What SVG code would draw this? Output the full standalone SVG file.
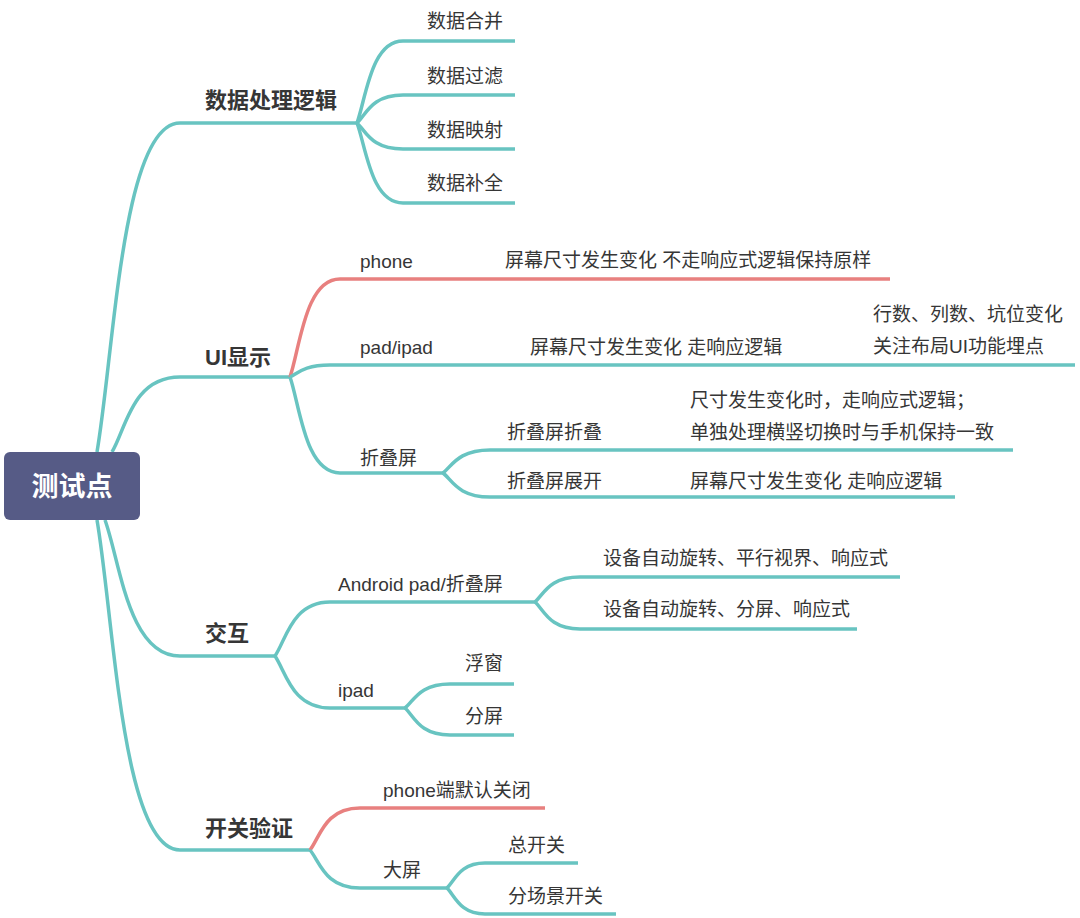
<svg xmlns="http://www.w3.org/2000/svg" width="1080" height="918" viewBox="0 0 1080 918">
<style>
.c{fill:none;stroke:#68c4c1;stroke-width:3.5}
.r{fill:none;stroke:#e8807f;stroke-width:3.5}
text{font-family:"Liberation Sans","Noto Sans CJK SC",sans-serif;fill:#363636}
.t{font-size:19px}
.b{font-size:22px;font-weight:bold}
.root{font-size:27px;font-weight:bold;fill:#fff}
</style>
<rect width="1080" height="918" fill="#fff"/>
<g id="connectors">
<path class="c" d="M97,452 C114,353 122,123 180,123 L357,123"/>
<path class="c" d="M112,452 C126,429 132,377 180,377 L290,377"/>
<path class="c" d="M105,520 C120,561 128,656 180,656 L275,656"/>
<path class="c" d="M97,520 C114,619 122,850 180,850 L310,850"/>
<path class="c" d="M357,123 C366,98 371,41 403,41 L515,41"/>
<path class="c" d="M357,123 C366,115 371,95 403,95 L515,95"/>
<path class="c" d="M357,123 C366,131 371,149 403,149 L515,149"/>
<path class="c" d="M357,123 C366,147 371,203 403,203 L515,203"/>
<path class="r" d="M290,377 C300,348 305,279 340,279 L890,279"/>
<path class="c" d="M290,377 C298,373 304,365 330,365 L1075,365"/>
<path class="c" d="M290,377 C300,406 305,473 340,473 L443,473"/>
<path class="c" d="M443,473 C452,466 458,450 490,450 L1013,450"/>
<path class="c" d="M443,473 C452,480 458,497 490,497 L955,497"/>
<path class="c" d="M275,656 C286,640 292,602 330,602 L535,602"/>
<path class="c" d="M275,656 C286,672 292,708 330,708 L405,708"/>
<path class="c" d="M535,602 C544,594 549,577 580,577 L900,577"/>
<path class="c" d="M535,602 C544,610 549,629 580,629 L857,629"/>
<path class="c" d="M405,708 C414,701 419,684 450,684 L514,684"/>
<path class="c" d="M405,708 C414,716 419,735 450,735 L514,735"/>
<path class="r" d="M310,850 C320,837 325,808 360,808 L545,808"/>
<path class="c" d="M310,850 C320,862 325,888 360,888 L447,888"/>
<path class="c" d="M447,888 C455,880 460,863 485,863 L578,863"/>
<path class="c" d="M447,888 C455,896 460,914 485,914 L616,914"/>
</g>
<g id="root">
<rect x="4" y="452" width="136" height="68" rx="6" fill="#565b86"/>
<text class="root" x="72" y="496" text-anchor="middle">测试点</text>
</g>
<g id="n-data"><text class="b" x="205" y="108">数据处理逻辑</text></g>
<g id="n-data1"><text class="t" x="427" y="28">数据合并</text></g>
<g id="n-data2"><text class="t" x="427" y="83">数据过滤</text></g>
<g id="n-data3"><text class="t" x="427" y="137">数据映射</text></g>
<g id="n-data4"><text class="t" x="427" y="190">数据补全</text></g>
<g id="n-ui"><text class="b" x="205" y="365">UI显示</text></g>
<g id="n-phone"><text class="t" x="360" y="268">phone</text></g>
<g id="n-phone1"><text class="t" x="505" y="267">屏幕尺寸发生变化 不走响应式逻辑保持原样</text></g>
<g id="n-pad"><text class="t" x="360" y="354">pad/ipad</text></g>
<g id="n-pad1"><text class="t" x="530" y="354">屏幕尺寸发生变化 走响应逻辑</text></g>
<g id="n-pad2"><text class="t" x="873" y="321">行数、列数、坑位变化</text><text class="t" x="873" y="353">关注布局UI功能埋点</text></g>
<g id="n-fold"><text class="t" x="360" y="465">折叠屏</text></g>
<g id="n-fold1"><text class="t" x="507" y="439">折叠屏折叠</text></g>
<g id="n-fold1a"><text class="t" x="690" y="407">尺寸发生变化时，走响应式逻辑；</text><text class="t" x="690" y="439">单独处理横竖切换时与手机保持一致</text></g>
<g id="n-fold2"><text class="t" x="507" y="488">折叠屏展开</text></g>
<g id="n-fold2a"><text class="t" x="690" y="488">屏幕尺寸发生变化 走响应逻辑</text></g>
<g id="n-inter"><text class="b" x="205" y="641">交互</text></g>
<g id="n-android"><text class="t" x="338" y="591">Android pad/折叠屏</text></g>
<g id="n-android1"><text class="t" x="603" y="565">设备自动旋转、平行视界、响应式</text></g>
<g id="n-android2"><text class="t" x="603" y="616">设备自动旋转、分屏、响应式</text></g>
<g id="n-ipad"><text class="t" x="338" y="697">ipad</text></g>
<g id="n-ipad1"><text class="t" x="465" y="670">浮窗</text></g>
<g id="n-ipad2"><text class="t" x="465" y="723">分屏</text></g>
<g id="n-switch"><text class="b" x="205" y="836">开关验证</text></g>
<g id="n-sw1"><text class="t" x="383" y="797">phone端默认关闭</text></g>
<g id="n-sw2"><text class="t" x="383" y="877">大屏</text></g>
<g id="n-sw2a"><text class="t" x="508" y="852">总开关</text></g>
<g id="n-sw2b"><text class="t" x="508" y="903">分场景开关</text></g>
</svg>
